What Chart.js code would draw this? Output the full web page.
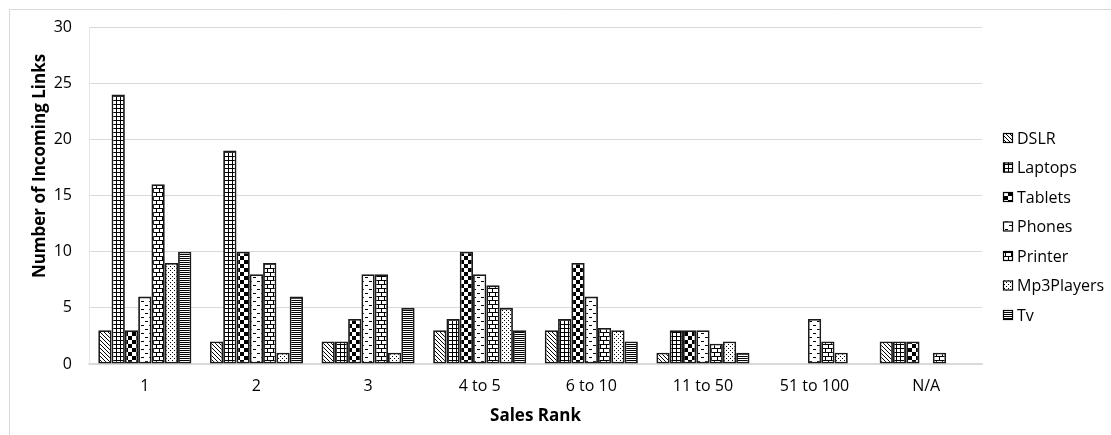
<!DOCTYPE html>
<html>
<head>
<meta charset="utf-8">
<script src="https://cdn.jsdelivr.net/npm/chart.js@4.4.1/dist/chart.umd.min.js"></script>
<style>
  html, body { margin: 0; padding: 0; background: #fff; }
  #wrap { width: 1111px; height: 435px; position: relative; }
</style>
</head>
<body>
<div id="wrap"><canvas id="c" width="1111" height="435"></canvas></div>
<script>
// Sales-rank buckets on the x axis
const categories = ['1', '2', '3', '4 to 5', '6 to 10', '11 to 50', '51 to 100', 'N/A'];

// Incoming links per product type in each rank bucket
const seriesNames = ['DSLR', 'Laptops', 'Tablets', 'Phones', 'Printer', 'Mp3Players', 'Tv'];
const dslr       = [3, 2, 2, 3, 3, 1, 0, 2];
const laptops    = [24, 19, 2, 4, 4, 3, 0, 2];
const tablets    = [3, 10, 4, 10, 9, 3, 0, 2];
const phones     = [6, 8, 8, 8, 6, 3, 4, 0];
const printer    = [16, 9, 8, 7, 3.2, 1.8, 2, 1];
const mp3players = [9, 1, 1, 5, 3, 2, 1, 0];
const tv         = [10, 6, 5, 3, 2, 1, 0, 0];

const yTicks = [0, 5, 10, 15, 20, 25, 30];

// ---- fill patterns (monochrome hatch styles) ----
function makePattern(w, h, draw) {
  const cv = document.createElement('canvas');
  cv.width = w; cv.height = h;
  const g = cv.getContext('2d');
  g.fillStyle = '#fff';
  g.fillRect(0, 0, w, h);
  g.fillStyle = '#000';
  draw(g);
  return document.getElementById('c').getContext('2d').createPattern(cv, 'repeat');
}
const px = (g, x, y, c) => { if (c) g.fillStyle = c; g.fillRect(x, y, 1, 1); };

const patterns = [
  // diagonal stripes
  makePattern(4, 4, g => { for (let i = 0; i < 4; i++) px(g, i, i, '#000'); }),
  // small grid
  makePattern(4, 4, g => { g.fillRect(0, 0, 4, 1); g.fillRect(0, 0, 1, 4); }),
  // large checkerboard
  makePattern(8, 8, g => { g.fillRect(0, 0, 4, 4); g.fillRect(4, 4, 4, 4); }),
  // staggered dashes
  makePattern(8, 8, g => { g.fillRect(1, 1, 3, 1); g.fillRect(5, 5, 3, 1); }),
  // horizontal bricks
  makePattern(6, 8, g => {
    g.fillRect(0, 0, 6, 1); g.fillRect(0, 4, 6, 1);
    g.fillRect(0, 0, 1, 4); g.fillRect(3, 4, 1, 4);
  }),
  // sparse dots
  makePattern(4, 4, g => { px(g, 0, 0, '#000'); px(g, 2, 2, '#000'); }),
  // dense horizontal lines
  makePattern(2, 2, g => { g.fillRect(0, 0, 2, 1); })
];

const seriesData = [dslr, laptops, tablets, phones, printer, mp3players, tv];
const datasets = seriesNames.map((name, i) => ({
  label: name,
  data: seriesData[i],
  backgroundColor: patterns[i],
  borderColor: '#1a1a1a',
  borderWidth: 1.8,
  borderSkipped: false,
  categoryPercentage: 0.834,
  barPercentage: 1.0
}));

const FONT = "'Open Sans', 'Noto Sans', sans-serif";

// frame, rotated y title and legend
const decor = {
  id: 'decor',
  beforeDraw(chart) {
    const ctx = chart.ctx;
    ctx.save();
    ctx.fillStyle = '#fff';
    ctx.fillRect(0, 0, chart.width, chart.height);
    ctx.strokeStyle = '#d9d9d9';
    ctx.lineWidth = 1;
    ctx.beginPath();
    ctx.moveTo(9.5, chart.height);
    ctx.lineTo(9.5, 9.5);
    ctx.lineTo(chart.width, 9.5);
    ctx.stroke();
    ctx.restore();
  },
  afterDraw(chart) {
    const ctx = chart.ctx;
    ctx.save();
    // y axis title
    ctx.translate(40, 166);
    ctx.rotate(-Math.PI / 2);
    ctx.font = "bold 17px " + FONT;
    ctx.fillStyle = '#000';
    ctx.textAlign = 'center';
    ctx.textBaseline = 'middle';
    ctx.fillText('Number of Incoming Links', 0, 0);
    ctx.restore();

    // legend
    ctx.save();
    ctx.font = "16px " + FONT;
    ctx.textBaseline = 'middle';
    ctx.textAlign = 'left';
    chart.data.datasets.forEach((ds, i) => {
      const y = 138 + i * 29.5;
      ctx.fillStyle = ds.backgroundColor;
      ctx.fillRect(1003, y - 5, 10, 10);
      ctx.strokeStyle = '#000';
      ctx.lineWidth = 1.2;
      ctx.strokeRect(1003.5, y - 4.5, 9, 9);
      ctx.fillStyle = '#000';
      ctx.fillText(ds.label, 1017, y + 1);
    });
    ctx.restore();
  }
};

new Chart(document.getElementById('c'), {
  type: 'bar',
  data: { labels: categories, datasets },
  options: {
    responsive: false,
    animation: false,
    devicePixelRatio: 1,
    layout: { padding: { top: 27, right: 129, bottom: 0, left: 0 } },
    plugins: {
      legend: { display: false },
      tooltip: { enabled: false }
    },
    scales: {
      x: {
        grid: { display: false, drawTicks: false },
        border: { display: true, color: '#d9d9d9', width: 1.5 },
        ticks: { color: '#000', font: { family: FONT, size: 16 }, padding: 13, maxRotation: 0 },
        title: {
          display: true, text: 'Sales Rank', color: '#000',
          font: { family: FONT, size: 17, weight: 'bold' },
          padding: { top: 0, bottom: 9 }
        },
        afterFit(s) { s.height = 71; }
      },
      y: {
        min: 0, max: 30,
        afterBuildTicks(s) { s.ticks = yTicks.map(v => ({ value: v })); },
        grid: { color: '#d9d9d9', drawTicks: false, lineWidth: 1 },
        border: { display: true, color: '#e6e6e6', width: 1 },
        ticks: { color: '#000', font: { family: FONT, size: 16 }, padding: 17 },
        afterFit(s) { s.width = 89; }
      }
    }
  },
  plugins: [decor]
});
</script>
</body>
</html>
